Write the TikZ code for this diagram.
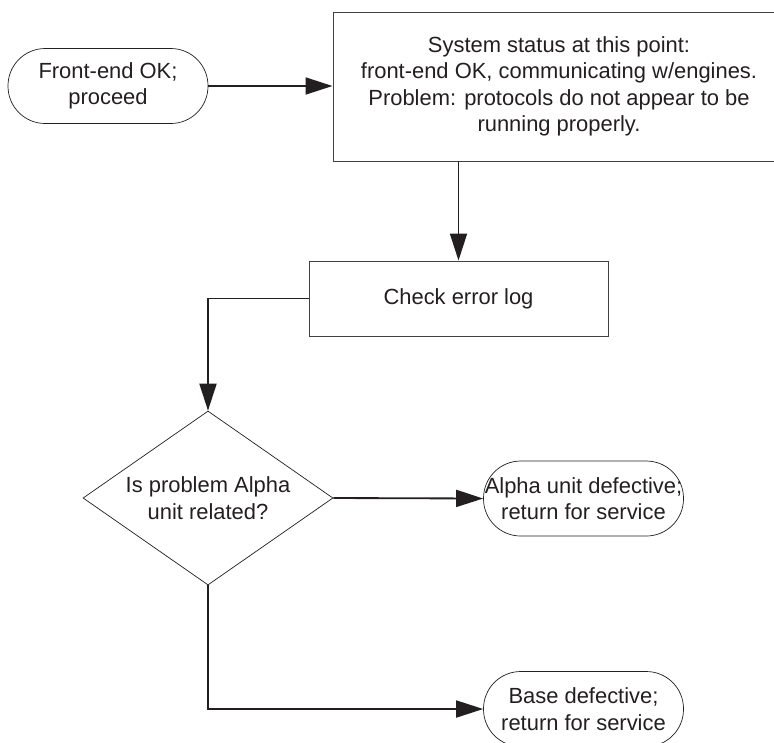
\documentclass[tikz,border=0pt]{standalone}
\usepackage{fontspec}
\setmainfont{Liberation Sans}
\usepackage{tikz}
\usetikzlibrary{shapes.geometric,arrows.meta,positioning,calc}
\definecolor{inkgray}{HTML}{231F20}

\begin{document}
\begin{tikzpicture}[
  font=\fontsize{15.6pt}{18.8pt}\selectfont,
  terminal/.style={rectangle,rounded corners=0.93cm,minimum width=5cm,minimum height=1.875cm,
    inner sep=0pt,align=center,draw=inkgray,line width=0.5pt,text=inkgray},
  process/.style={rectangle,inner sep=0pt,align=center,draw=inkgray!85,line width=0.7pt,text=inkgray},
  decision/.style={diamond,aspect=1.437,minimum width=6.25cm,minimum height=4.35cm,inner sep=0pt,
    align=center,draw=inkgray,line width=0.5pt,text=inkgray},
  flow/.style={-{Triangle[length=0.675cm,width=0.425cm]},line width=1.3pt,inkgray},
]
  \useasboundingbox (0,0) rectangle (19.35,-18.55);
  \node[terminal] (start) at (2.7,-2.15) {Front-end OK;\\proceed};
  \node[process,minimum width=11.3cm,minimum height=3.725cm] (status) at (13.975,-2.1625)
    {System status at this point:\\front-end OK, communicating w/engines.\\
     Problem: protocols do not appear to be\\running properly.};
  \node[process,minimum width=7.475cm,minimum height=1.875cm] (check) at (11.4625,-7.4625)
    {Check error log};
  \node[decision] (alpha) at (5.2,-12.45) {Is problem Alpha\\unit related?};
  \node[terminal] (alphabad) at (14.5875,-12.4625) {Alpha unit defective;\\return for service};
  \node[terminal] (basebad) at (14.5875,-17.725) {Base defective;\\return for service};
  \draw[flow] (start.east) -- (status.west |- start.east);
  \draw[flow] (status.south -| check.north) -- (check.north);
  \draw[flow] (check.west) -| (alpha.north);
  \draw[flow] (alpha.east) -- (alphabad.west);
  \draw[flow] (alpha.south) |- (basebad.west);
\end{tikzpicture}
\end{document}
